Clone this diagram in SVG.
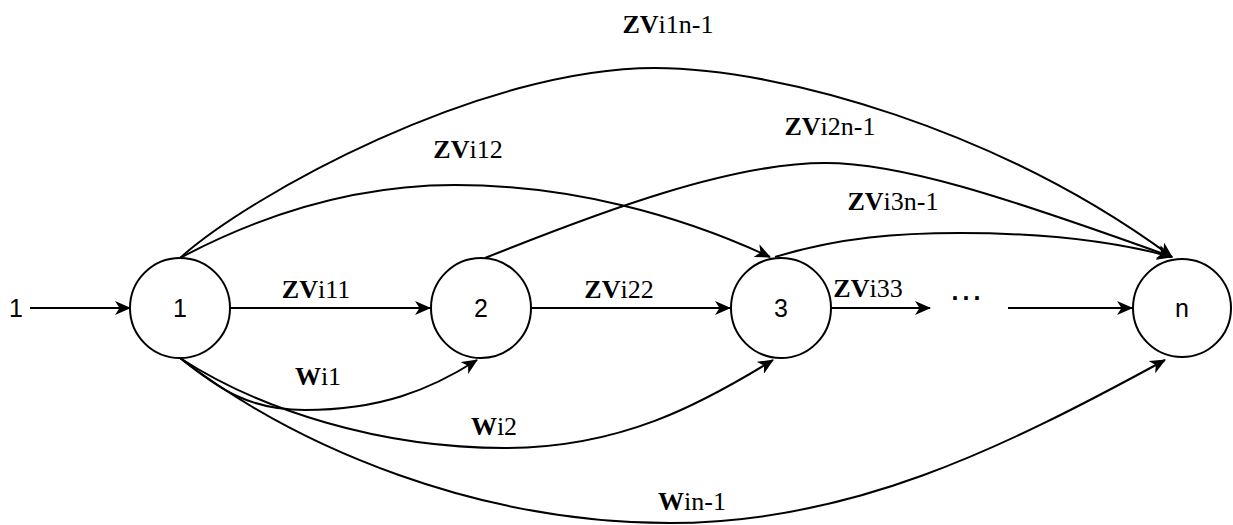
<svg xmlns="http://www.w3.org/2000/svg" width="1233" height="525" viewBox="0 0 1233 525">
  <defs>
    <marker id="arrow" markerUnits="userSpaceOnUse" viewBox="0 0 16 14" refX="15" refY="7" markerWidth="16" markerHeight="14" orient="auto">
      <path d="M0,0 L16,7 L0,14 L4.5,7 z" fill="#000"/>
    </marker>
    <style>
      .node circle { fill: #fff; stroke: #000; stroke-width: 2; }
      .nlabel { font-family: "Liberation Sans", Arial, sans-serif; font-size: 25px; fill: #000; text-anchor: middle; }
      .edge { fill: none; stroke: #000; stroke-width: 2; }
      .arr { marker-end: url(#arrow); }
      .elabel { font-family: "Liberation Serif", "Times New Roman", serif; font-size: 26px; fill: #000; text-anchor: middle; }
      .b { font-weight: bold; }
    </style>
  </defs>
  <rect width="1233" height="525" fill="#fff"/>

  <!-- connectors -->
  <g id="connectors">
    <!-- straight chain -->
    <path class="edge arr" d="M30,308 L130,308"/>
    <path class="edge arr" d="M230,308 L430,308"/>
    <path class="edge arr" d="M532,308 L730,308"/>
    <path class="edge arr" d="M832,308 L930,308"/>
    <path class="edge arr" d="M1008,308 L1132,308"/>
    <!-- upper arcs -->
    <path class="edge arr" d="M180,258 C250,195 480,68 655,68 C780,68 1000,130 1172,257"/>
    <path class="edge arr" d="M180,258 C280,205 370,185 455,185 C570,185 680,215 770,257"/>
    <path class="edge arr" d="M485,258 C600,212 730,163 825,163 C900,163 1000,195 1172,257"/>
    <path class="edge arr" d="M775,257 C840,237 900,233 960,233 C1040,233 1110,240 1172,257"/>
    <!-- lower arcs -->
    <path class="edge arr" d="M180,358 C220,390 250,410 305,410 C380,410 430,390 477,360"/>
    <path class="edge arr" d="M180,358 C260,410 380,448 505,448 C620,448 700,405 773,360"/>
    <path class="edge arr" d="M180,358 C300,450 480,523 670,523 C850,523 1000,450 1165,360"/>

    <!-- edge labels -->
    <text class="elabel" x="668" y="33"><tspan class="b">ZV</tspan>i1n-1</text>
    <text class="elabel" x="468" y="158"><tspan class="b">ZV</tspan>i12</text>
    <text class="elabel" x="830" y="135"><tspan class="b">ZV</tspan>i2n-1</text>
    <text class="elabel" x="893" y="210"><tspan class="b">ZV</tspan>i3n-1</text>
    <text class="elabel" x="316" y="298"><tspan class="b">ZV</tspan>i11</text>
    <text class="elabel" x="619" y="298"><tspan class="b">ZV</tspan>i22</text>
    <text class="elabel" x="868" y="297"><tspan class="b">ZV</tspan>i33</text>
    <text class="elabel" x="318" y="385"><tspan class="b">W</tspan>i1</text>
    <text class="elabel" x="494" y="435"><tspan class="b">W</tspan>i2</text>
    <text class="elabel" x="692" y="510"><tspan class="b">W</tspan>in-1</text>
  </g>

  <!-- input label and continuation dots -->
  <text class="nlabel" x="16" y="317">1</text>
  <text class="nlabel" x="968" y="300" style="font-weight:bold;letter-spacing:4px">...</text>

  <!-- nodes -->
  <g id="node-1" class="node">
    <circle cx="180" cy="308" r="50"/>
    <text class="nlabel" x="180" y="317">1</text>
  </g>
  <g id="node-2" class="node">
    <circle cx="481" cy="308" r="50"/>
    <text class="nlabel" x="481" y="317">2</text>
  </g>
  <g id="node-3" class="node">
    <circle cx="781" cy="308" r="50"/>
    <text class="nlabel" x="781" y="317">3</text>
  </g>
  <g id="node-n" class="node">
    <circle cx="1182" cy="308" r="49"/>
    <text class="nlabel" x="1182" y="317">n</text>
  </g>
</svg>
